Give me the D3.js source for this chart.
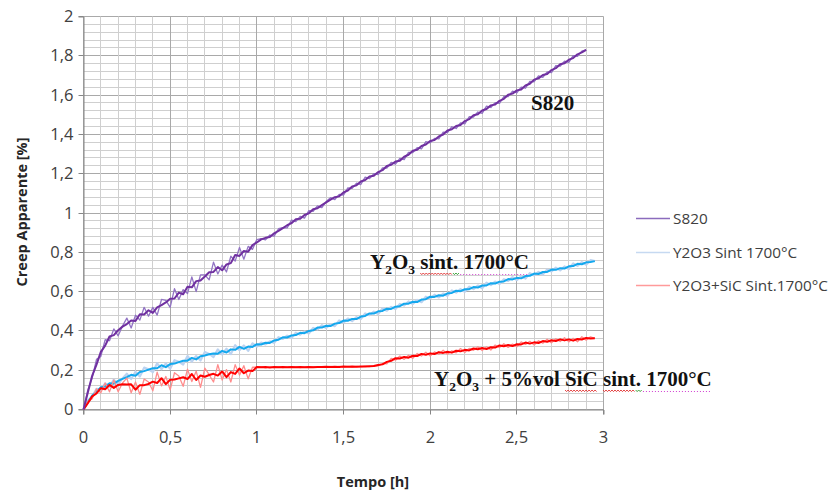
<!DOCTYPE html>
<html><head><meta charset="utf-8">
<script src="https://cdn.jsdelivr.net/npm/d3@7"></script>
<style>body{margin:0;background:#fff}text{white-space:pre}</style>
</head><body>
<svg id="chart" width="832" height="492"></svg>
<script>
// ---- data ----
const sampleStep = 0.025; // h between samples, starting at 0
const s820 = [
0, 0.10, 0.16, 0.255, 0.27, 0.355, 0.35, 0.41, 0.375, 0.425,
0.465, 0.415, 0.48, 0.455, 0.52, 0.475, 0.52, 0.48, 0.56, 0.555,
0.52, 0.615, 0.56, 0.61, 0.59, 0.675, 0.60, 0.685, 0.685, 0.66,
0.75, 0.69, 0.735, 0.70, 0.78, 0.755, 0.825, 0.765, 0.83, 0.815,
0.865, 0.870, 0.863, 0.888, 0.882, 0.920, 0.925, 0.924, 0.964, 0.956,
0.983, 0.974, 1.012, 1.009, 1.036, 1.027, 1.058, 1.078, 1.068, 1.095,
1.091, 1.128, 1.125, 1.152, 1.145, 1.183, 1.175, 1.200, 1.195, 1.230,
1.229, 1.258, 1.249, 1.278, 1.272, 1.309, 1.308, 1.333, 1.326, 1.363,
1.357, 1.380, 1.377, 1.412, 1.409, 1.439, 1.430, 1.459, 1.454, 1.490,
1.488, 1.514, 1.507, 1.544, 1.537, 1.562, 1.558, 1.593, 1.592, 1.620,
1.611, 1.641, 1.635, 1.670, 1.668, 1.698, 1.690, 1.718, 1.714, 1.750,
1.747, 1.773, 1.767, 1.801, 1.797, 1.824, 1.83
];
const y2o3 = [
0, 0.045, 0.065, 0.105, 0.102, 0.133, 0.115, 0.152, 0.128, 0.158,
0.182, 0.155, 0.192, 0.168, 0.213, 0.205, 0.19, 0.235, 0.205, 0.235,
0.207, 0.251, 0.243, 0.229, 0.272, 0.244, 0.272, 0.249, 0.293, 0.283,
0.267, 0.306, 0.28, 0.309, 0.282, 0.327, 0.302, 0.326, 0.298, 0.337,
0.32, 0.341, 0.331, 0.347, 0.339, 0.368, 0.359, 0.376, 0.364, 0.391,
0.381, 0.398, 0.387, 0.415, 0.407, 0.429, 0.415, 0.434, 0.424, 0.453,
0.442, 0.463, 0.450, 0.470, 0.460, 0.489, 0.480, 0.498, 0.486, 0.515,
0.503, 0.522, 0.511, 0.537, 0.529, 0.550, 0.537, 0.558, 0.546, 0.574,
0.565, 0.584, 0.570, 0.590, 0.578, 0.606, 0.595, 0.612, 0.599, 0.625,
0.613, 0.631, 0.617, 0.645, 0.633, 0.651, 0.638, 0.663, 0.654, 0.674,
0.658, 0.678, 0.666, 0.694, 0.682, 0.700, 0.687, 0.712, 0.702, 0.722,
0.708, 0.728, 0.715, 0.743, 0.731, 0.750, 0.737, 0.760, 0.755
];
const y2o3SiC = [
0, 0.04, 0.055, 0.105, 0.085, 0.135, 0.09, 0.15, 0.09, 0.135,
0.16, 0.085, 0.14, 0.077, 0.155, 0.14, 0.095, 0.19, 0.12, 0.168,
0.10, 0.187, 0.17, 0.118, 0.205, 0.142, 0.195, 0.113, 0.21, 0.177,
0.14, 0.228, 0.15, 0.203, 0.14, 0.228, 0.175, 0.223, 0.156, 0.215,
0.215, 0.218, 0.212, 0.217, 0.213, 0.218, 0.213, 0.217, 0.214, 0.218,
0.213, 0.217, 0.214, 0.218, 0.214, 0.218, 0.215, 0.219, 0.215, 0.219,
0.216, 0.22, 0.216, 0.22, 0.217, 0.221, 0.218, 0.223, 0.222, 0.235,
0.232, 0.26, 0.251, 0.272, 0.255, 0.276, 0.26, 0.285, 0.272, 0.292,
0.272, 0.293, 0.281, 0.302, 0.281, 0.299, 0.288, 0.31, 0.29, 0.311,
0.301, 0.319, 0.30, 0.319, 0.303, 0.328, 0.315, 0.335, 0.316, 0.333,
0.319, 0.344, 0.331, 0.347, 0.328, 0.35, 0.337, 0.358, 0.339, 0.36,
0.346, 0.365, 0.344, 0.362, 0.345, 0.37, 0.353, 0.37, 0.362
];
const seriesNames = ["S820", "Y2O3 Sint 1700°C", "Y2O3+SiC Sint.1700°C"];
const xTickValues = [0, 0.5, 1, 1.5, 2, 2.5, 3];
const xTickLabels = ["0", "0,5", "1", "1,5", "2", "2,5", "3"];
const yTickValues = [0, 0.2, 0.4, 0.6, 0.8, 1, 1.2, 1.4, 1.6, 1.8, 2];
const yTickLabels = ["0", "0,2", "0,4", "0,6", "0,8", "1", "1,2", "1,4", "1,6", "1,8", "2"];

// ---- styles ----
const rawColors = ["#9274c4", "#bcd3f0", "#ff8c8c"];
const rawWidths = [1.3, 2.2, 1.3];
const fitColors = ["#7030a0", "#14a8ee", "#ff0000"];
const legendColors = ["#8b6bbd", "#c6d9f1", "#ff9a9a"];
const sansFont = "'Open Sans', 'Noto Sans', sans-serif";
const serifFont = "'Liberation Serif', 'Times New Roman', serif";

const svg = d3.select("#chart");
svg.append("rect").attr("width", 832).attr("height", 492).attr("fill", "#fff");

const x = d3.scaleLinear().domain([0, 3]).range([83.5, 603.5]);
const y = d3.scaleLinear().domain([0, 2]).range([409.5, 16.5]);
const px = v => Math.round(v - 0.5) + 0.5;

// gridlines
const grid = svg.append("g");
const xMinor = d3.range(0, 30.5, 1).map(i => i / 10);
const yMinor = d3.range(0, 50.5, 1).map(i => i * 0.04);
grid.selectAll(".gy").data(yMinor).join("line")
  .attr("x1", x(0)).attr("x2", x(3))
  .attr("y1", d => px(y(d))).attr("y2", d => px(y(d)))
  .attr("stroke", d => Math.abs(d / 0.2 - Math.round(d / 0.2)) < 1e-6 ? "#a9a9a9" : "#cfcfcf")
  .attr("stroke-width", 1);
grid.selectAll(".gx").data(xMinor).join("line")
  .attr("y1", y(0)).attr("y2", y(2))
  .attr("x1", d => px(x(d))).attr("x2", d => px(x(d)))
  .attr("stroke", d => Math.abs(d / 0.5 - Math.round(d / 0.5)) < 1e-6 ? "#a9a9a9" : "#cfcfcf")
  .attr("stroke-width", 1);

// axes
const yAxis = d3.axisLeft(y).tickValues(yTickValues)
  .tickFormat((d, i) => yTickLabels[i]).tickSize(5).tickPadding(5);
const xAxis = d3.axisBottom(x).tickValues(xTickValues)
  .tickFormat((d, i) => xTickLabels[i]).tickSize(5).tickPadding(17);
const gy = svg.append("g").attr("transform", `translate(${x(0)},0)`).call(yAxis);
const gx = svg.append("g").attr("transform", `translate(0,${px(y(0))})`).call(xAxis);
[gx, gy].forEach(g => {
  g.select(".domain").attr("stroke", "#868686");
  g.selectAll(".tick line").attr("stroke", "#868686");
  g.selectAll(".tick text").attr("font-family", sansFont).attr("font-size", 16.5).attr("fill", "#404040");
});
gy.selectAll(".tick").attr("transform", d => `translate(0,${px(y(d))})`);
gx.selectAll(".tick").attr("transform", d => `translate(${px(x(d))},0)`);

// series: light raw line + darker moving average
function smooth(vals, half) {
  return vals.map((v, i) => {
    const h = Math.min(half, i, vals.length - 1 - i);
    return d3.mean(vals.slice(i - h, i + h + 1));
  });
}
const allSeries = [s820, y2o3, y2o3SiC];
const line = d3.line().x(d => x(d[0])).y(d => y(d[1]));
const drawOrder = [1, 2, 0];
drawOrder.forEach(k => {
  const vals = allSeries[k];
  const raw = vals.map((v, i) => [i * sampleStep, v]);
  const sm = smooth(vals, 1).map((v, i) => [i * sampleStep, v]);
  svg.append("path").datum(raw).attr("d", line).attr("fill", "none")
    .attr("stroke", rawColors[k]).attr("stroke-width", rawWidths[k]).attr("stroke-linejoin", "round");
  svg.append("path").datum(sm).attr("d", line).attr("fill", "none")
    .attr("stroke", fitColors[k]).attr("stroke-width", 2).attr("stroke-linejoin", "round");
});

// axis titles
svg.append("text").attr("transform", "translate(27,212) rotate(-90)")
  .attr("text-anchor", "middle").attr("font-family", sansFont).attr("font-weight", "bold")
  .attr("font-size", 14.5).attr("fill", "#262626").text("Creep Apparente [%]");
svg.append("text").attr("x", 373).attr("y", 487)
  .attr("text-anchor", "middle").attr("font-family", sansFont).attr("font-weight", "bold")
  .attr("font-size", 14.5).attr("fill", "#262626").text("Tempo [h]");

// legend
const legendRows = [218, 252, 285];
seriesNames.forEach((name, i) => {
  svg.append("line").attr("x1", 636).attr("x2", 670)
    .attr("y1", legendRows[i] + 0.5).attr("y2", legendRows[i] + 0.5)
    .attr("stroke", legendColors[i]).attr("stroke-width", 1.5);
  svg.append("text").attr("x", 673).attr("y", legendRows[i] + 6)
    .attr("font-family", sansFont).attr("font-size", 15.3).attr("fill", "#404040").text(name);
});

// annotations
function annot(x0, y0, parts) {
  const t = svg.append("text").attr("x", x0).attr("y", y0)
    .attr("font-family", serifFont).attr("font-weight", "bold").attr("font-size", 21).attr("fill", "#111");
  parts.forEach(p => {
    const s = t.append("tspan").text(p.t);
    if (p.sub) s.attr("font-size", 13.5).attr("dy", 5);
    if (p.up) s.attr("dy", -5);
  });
  return t.node();
}
function wavy(x0, x1, yy, color) {
  let d = `M${x0},${yy}`;
  let k = 0;
  for (let xx = x0 + 1.5; xx <= x1; xx += 1.5, k++) d += `L${xx},${yy + (k % 2 ? 0 : 1.6)}`;
  svg.append("path").attr("d", d).attr("fill", "none").attr("stroke", color).attr("stroke-width", 0.9);
}
function dotted(x0, x1, yy, color) {
  svg.append("line").attr("x1", x0).attr("x2", x1).attr("y1", yy).attr("y2", yy)
    .attr("stroke", color).attr("stroke-width", 1).attr("stroke-dasharray", "1,2");
}
function span(node, a, b) {
  return [node.getStartPositionOfChar(a).x, node.getEndPositionOfChar(b).x];
}

annot(531, 110, [{t: "S820"}]);

const a1 = annot(370, 269, [{t: "Y"}, {t: "2", sub: true}, {t: "O", up: true}, {t: "3", sub: true}, {t: " sint. 1700°C", up: true}]);
let r = span(a1, 5, 8); wavy(r[0], r[1], 273, "#e03030");
r = span(a1, 9, 9); wavy(r[0], r[1] + 2, 273, "#2e9a2e");
r = span(a1, 10, 16); dotted(r[0] + 2, r[1], 274.5, "#d23fd2");

const a2 = annot(434, 386, [{t: "Y"}, {t: "2", sub: true}, {t: "O", up: true}, {t: "3", sub: true}, {t: " + 5%vol SiC sint. 1700°C", up: true}]);
r = span(a2, 13, 15); wavy(r[0], r[1], 390, "#e03030");
r = span(a2, 17, 20); wavy(r[0], r[1], 390, "#e03030");
r = span(a2, 21, 21); wavy(r[0], r[1] + 2, 390, "#2e9a2e");
r = span(a2, 22, 28); dotted(r[0] + 2, r[1], 391.5, "#d23fd2");
</script>
</body></html>
